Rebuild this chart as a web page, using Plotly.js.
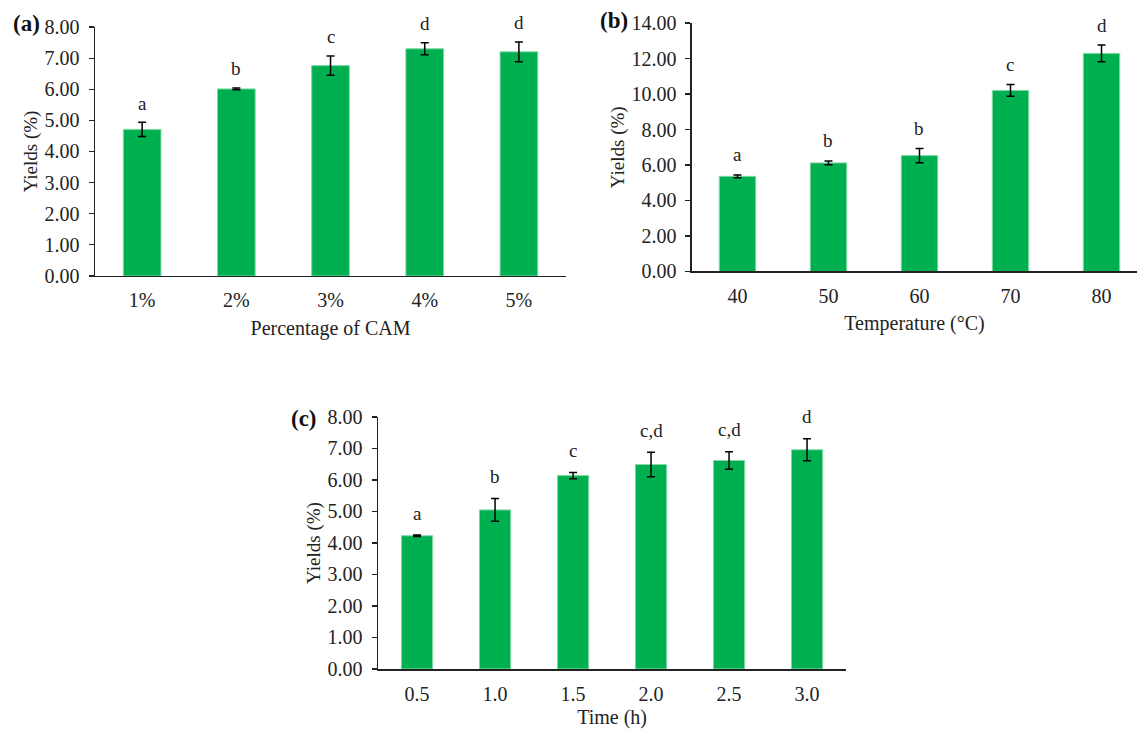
<!DOCTYPE html>
<html>
<head>
<meta charset="utf-8">
<script src="https://cdn.plot.ly/plotly-3.0.1.min.js"></script>
<style>html,body{margin:0;padding:0;background:#fff;}#chart{width:1137px;height:729px;}</style>
</head>
<body>
<div id="chart"></div>
<script>
// Panel (a): Percentage of CAM
const camCats = ["1%", "2%", "3%", "4%", "5%"];
const camYield = [4.71, 6.01, 6.76, 7.30, 7.20];
const camErr = [0.23, 0.03, 0.31, 0.19, 0.32];
const camLetters = ["a", "b", "c", "d", "d"];

// Panel (b): Temperature
const tempCats = ["40", "50", "60", "70", "80"];
const tempYield = [5.36, 6.12, 6.53, 10.20, 12.29];
const tempErr = [0.08, 0.11, 0.40, 0.33, 0.47];
const tempLetters = ["a", "b", "b", "c", "d"];

// Panel (c): Time
const timeCats = ["0.5", "1.0", "1.5", "2.0", "2.5", "3.0"];
const timeYield = [4.23, 5.05, 6.14, 6.49, 6.62, 6.96];
const timeErr = [0.02, 0.36, 0.10, 0.39, 0.28, 0.35];
const timeLetters = ["a", "b", "c", "c,d", "c,d", "d"];

const GREEN = "#00B050";
const FONT = "Liberation Serif, Times New Roman, serif";
const TXT = "#222222";

function barTrace(x, y, err, xa, ya) {
  return {
    type: "bar", x: x, y: y, xaxis: xa, yaxis: ya, width: 0.4,
    marker: {color: GREEN, line: {color: "#7fd9a6", width: 1}},
    error_y: {type: "data", array: err, visible: true, color: "#000", thickness: 1.5, width: 4},
    hoverinfo: "x+y", showlegend: false
  };
}

const data = [
  barTrace(camCats, camYield, camErr, "x", "y"),
  barTrace(tempCats, tempYield, tempErr, "x2", "y2"),
  barTrace(timeCats, timeYield, timeErr, "x3", "y3")
];

// letters placed above each error bar; x is the category index on the category axis
function letterAnns(cats, vals, errs, letters, xr, yr, shift) {
  return cats.map((c, i) => ({
    x: i, y: vals[i] + errs[i], xref: xr, yref: yr, text: letters[i],
    showarrow: false, yanchor: "middle", yshift: shift,
    font: {family: FONT, size: 19, color: TXT}
  }));
}

function xax(domain, anchor, cats, title, range) {
  return {
    domain: domain, anchor: anchor, type: "category", categoryorder: "array", categoryarray: cats,
    range: range, showline: true, linecolor: "#222", linewidth: 1.5, ticks: "", showgrid: false,
    zeroline: false, tickfont: {family: FONT, size: 20, color: TXT}, automargin: false,
    ticklabelstandoff: 6,
    title: {text: title, font: {family: FONT, size: 20, color: TXT}, standoff: 10}
  };
}
function yax(domain, anchor, range, dtick) {
  return {
    domain: domain, anchor: anchor, range: range, dtick: dtick, tick0: 0, tickformat: ".2f",
    showline: true, linecolor: "#222", linewidth: 1.5, ticks: "outside", ticklen: 5, tickcolor: "#222",
    tickwidth: 1.2, showgrid: false, zeroline: false, automargin: false, ticklabelstandoff: 5,
    tickfont: {family: FONT, size: 20, color: TXT},
    title: {text: "Yields (%)", font: {family: FONT, size: 19, color: TXT}, standoff: 2}
  };
}

const layout = {
  width: 1137, height: 729,
  margin: {l: 0, r: 0, t: 0, b: 0},
  paper_bgcolor: "#fff", plot_bgcolor: "#fff",
  xaxis: xax([0.0836, 0.4978], "y", camCats, "Percentage of CAM", [-0.5, 4.5]),
  yaxis: yax([0.6214, 0.963], "x", [0, 8], 1),
  xaxis2: xax([0.6086, 1.0], "y2", tempCats, "Temperature (°C)", [-0.5, 4.39]),
  yaxis2: yax([0.6276, 0.9684], "x2", [0, 14], 2),
  xaxis3: xax([0.3325, 0.7441], "y3", timeCats, "Time (h)", [-0.5, 5.5]),
  yaxis3: yax([0.0823, 0.428], "x3", [0, 8], 1),
  annotations: [].concat(
    letterAnns(camCats, camYield, camErr, camLetters, "x", "y", 19),
    letterAnns(tempCats, tempYield, tempErr, tempLetters, "x2", "y2", 20),
    letterAnns(timeCats, timeYield, timeErr, timeLetters, "x3", "y3", 22),
    [
      {text: "<b>(a)</b>", x: 26 / 1137, y: 1 - 24 / 729, xref: "paper", yref: "paper", showarrow: false,
       xanchor: "center", yanchor: "middle", font: {family: FONT, size: 23, color: "#111"}},
      {text: "<b>(b)</b>", x: 614 / 1137, y: 1 - 20 / 729, xref: "paper", yref: "paper", showarrow: false,
       xanchor: "center", yanchor: "middle", font: {family: FONT, size: 23, color: "#111"}},
      {text: "<b>(c)</b>", x: 304 / 1137, y: 1 - 418 / 729, xref: "paper", yref: "paper", showarrow: false,
       xanchor: "center", yanchor: "middle", font: {family: FONT, size: 23, color: "#111"}}
    ]
  )
};

Plotly.newPlot("chart", data, layout, {staticPlot: true, displayModeBar: false});
</script>
</body>
</html>
